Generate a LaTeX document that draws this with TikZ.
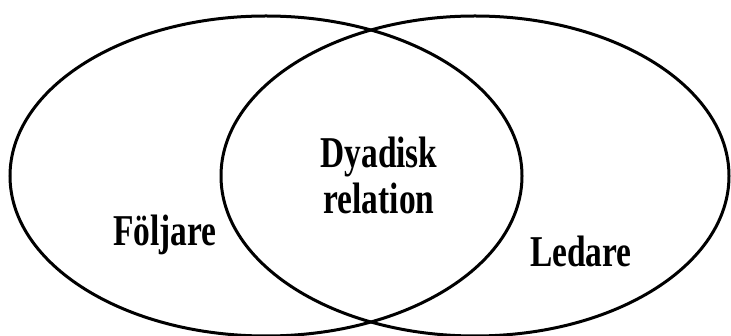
\documentclass[tikz,border=0pt]{standalone}
\usepackage{fontspec}
\setmainfont{Liberation Serif}[FakeStretch=0.76]
\begin{document}
\begin{tikzpicture}[x=1pt,y=-1pt,
  setline/.style={line width=3pt,draw=black},
  lbl/.style={font=\bfseries\fontsize{44}{46}\selectfont,inner sep=0pt,anchor=base,align=center}]
\useasboundingbox (0,0) rectangle (731,336);
\clip (0,0) rectangle (731,336);
\fill[white] (0,0) rectangle (731,336);
\draw[setline] (266,176) ellipse [x radius=256, y radius=160];
\draw[setline] (475,176) ellipse [x radius=254, y radius=160];
\node[lbl] (dy) at (379,214) {Dyadisk\\relation};
\node[lbl] (f) at (165,246) {Följare};
\node[lbl] (l) at (581,267) {Ledare};
\end{tikzpicture}
\end{document}
